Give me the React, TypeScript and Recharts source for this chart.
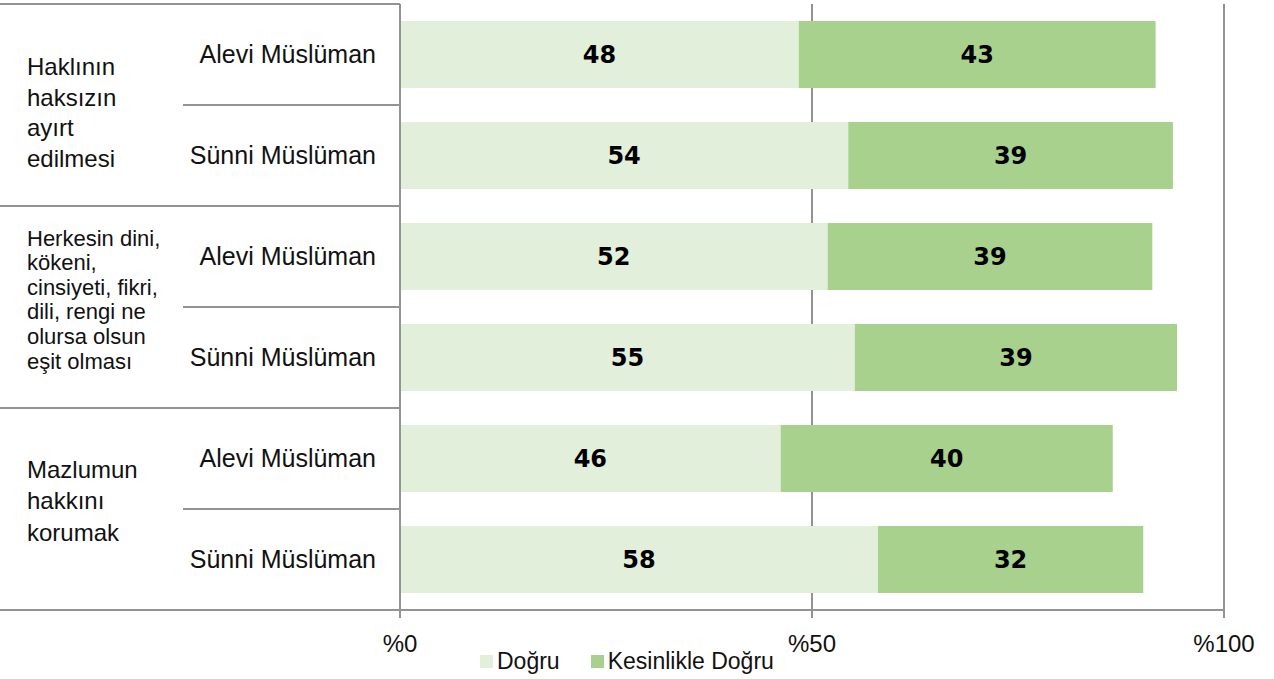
import { BarChart, Bar, XAxis, YAxis, CartesianGrid, LabelList, Legend } from "recharts";

// data
const respondents = [
  "Alevi Müslüman",
  "Sünni Müslüman",
  "Alevi Müslüman",
  "Sünni Müslüman",
  "Alevi Müslüman",
  "Sünni Müslüman",
];
const groupLines = [
  ["Haklının", "haksızın", "ayırt", "edilmesi"],
  ["Herkesin dini,", "kökeni,", "cinsiyeti, fikri,", "dili, rengi ne", "olursa olsun", "eşit olması"],
  ["Mazlumun", "hakkını", "korumak"],
];
const dogru = [48.4, 54.4, 51.9, 55.2, 46.2, 58.0];
const kesinlikle = [43.3, 39.4, 39.4, 39.1, 40.3, 32.2];
const xTicks = [0, 50, 100];

const chartData = respondents.map((name, i) => ({
  key: String(i),
  name,
  dogru: dogru[i],
  kesinlikle: kesinlikle[i],
}));

const FONT = "'Liberation Sans', Arial, sans-serif";
const LINE = "#939393";
const LIGHT = "#E2EFDA";
const DARK = "#A9D18E";

// per-group text style (the middle block is set smaller in the original)
const groupFont = [24, 22, 24];
const groupSpacing = [30.5, 24.6, 31.5];
const groupShift = [16, 0, 0];

function RowTick(props: any) {
  const { y, payload, index } = props;
  const half = payload && payload.offset ? payload.offset : 50.5;
  const i = index ?? Number(payload.value);
  const isFirst = i % 2 === 0;
  const g = Math.floor(i / 2);
  const lines = groupLines[g];
  const s = groupSpacing[g];
  const firstBase = y + half - ((lines.length - 1) * s) / 2 + groupShift[g];
  return (
    <g>
      {isFirst && <line x1={0} x2={400} y1={y - half} y2={y - half} stroke={LINE} strokeWidth={2} />}
      {isFirst && <line x1={183} x2={400} y1={y + half} y2={y + half} stroke={LINE} strokeWidth={2} />}
      {!isFirst && <line x1={0} x2={400} y1={y + half} y2={y + half} stroke={LINE} strokeWidth={2} />}
      <text x={376} y={y} dy="0.35em" textAnchor="end" fontSize={25} fontFamily={FONT} fill="#111">
        {respondents[i]}
      </text>
      {isFirst &&
        lines.map((l, k) => (
          <text key={k} x={27} y={firstBase + k * s} fontSize={groupFont[g]} fontFamily={FONT} fill="#111">
            {l}
          </text>
        ))}
    </g>
  );
}

function LegendBox(props: any) {
  const items = props.payload || [];
  return (
    <div style={{ display: "flex", alignItems: "center", fontFamily: FONT, fontSize: 23, color: "#111" }}>
      {items.map((it: any, k: number) => (
        <div key={k} style={{ display: "flex", alignItems: "center", marginRight: 31 }}>
          <span style={{ width: 13, height: 13, background: it.color, display: "inline-block", marginRight: 4 }} />
          <span>{it.value}</span>
        </div>
      ))}
    </div>
  );
}

export default function App() {
  return (
    <div style={{ position: "absolute", left: 0, top: 0, background: "#fff" }}>
      <BarChart
        width={1274}
        height={679}
        data={chartData}
        layout="vertical"
        margin={{ top: 4, right: 50, bottom: 0, left: 0 }}
        barSize={67}
      >
        <CartesianGrid horizontal={false} vertical={true} stroke={LINE} strokeWidth={2} />
        <XAxis
          type="number"
          domain={[0, 100]}
          ticks={xTicks}
          tickFormatter={(v: number) => "%" + v}
          height={69}
          axisLine={{ stroke: LINE, strokeWidth: 2 }}
          tickLine={{ stroke: LINE, strokeWidth: 2 }}
          tickSize={8}
          tickMargin={17}
          tick={{ fontSize: 24, fontFamily: FONT, fill: "#111" }}
        />
        <YAxis
          type="category"
          dataKey="key"
          width={400}
          tickLine={false}
          axisLine={{ stroke: LINE, strokeWidth: 2 }}
          tick={<RowTick />}
          interval={0}
        />
        <Legend
          layout="horizontal"
          verticalAlign="middle"
          align="center"
          content={<LegendBox />}
          wrapperStyle={{ top: 648, left: 480, width: 340, height: 28 }}
        />
        <Bar dataKey="dogru" name="Doğru" stackId="a" fill={LIGHT} isAnimationActive={false}>
          <LabelList
            dataKey="dogru"
            position="center"
            formatter={(v: any) => Math.round(Number(v))}
            fill="#000"
            fontSize={24}
            fontWeight={900}
            fontFamily="'DejaVu Sans', sans-serif"
          />
        </Bar>
        <Bar dataKey="kesinlikle" name="Kesinlikle Doğru" stackId="a" fill={DARK} isAnimationActive={false}>
          <LabelList
            dataKey="kesinlikle"
            position="center"
            formatter={(v: any) => Math.round(Number(v))}
            fill="#000"
            fontSize={24}
            fontWeight={900}
            fontFamily="'DejaVu Sans', sans-serif"
          />
        </Bar>
      </BarChart>
    </div>
  );
}
